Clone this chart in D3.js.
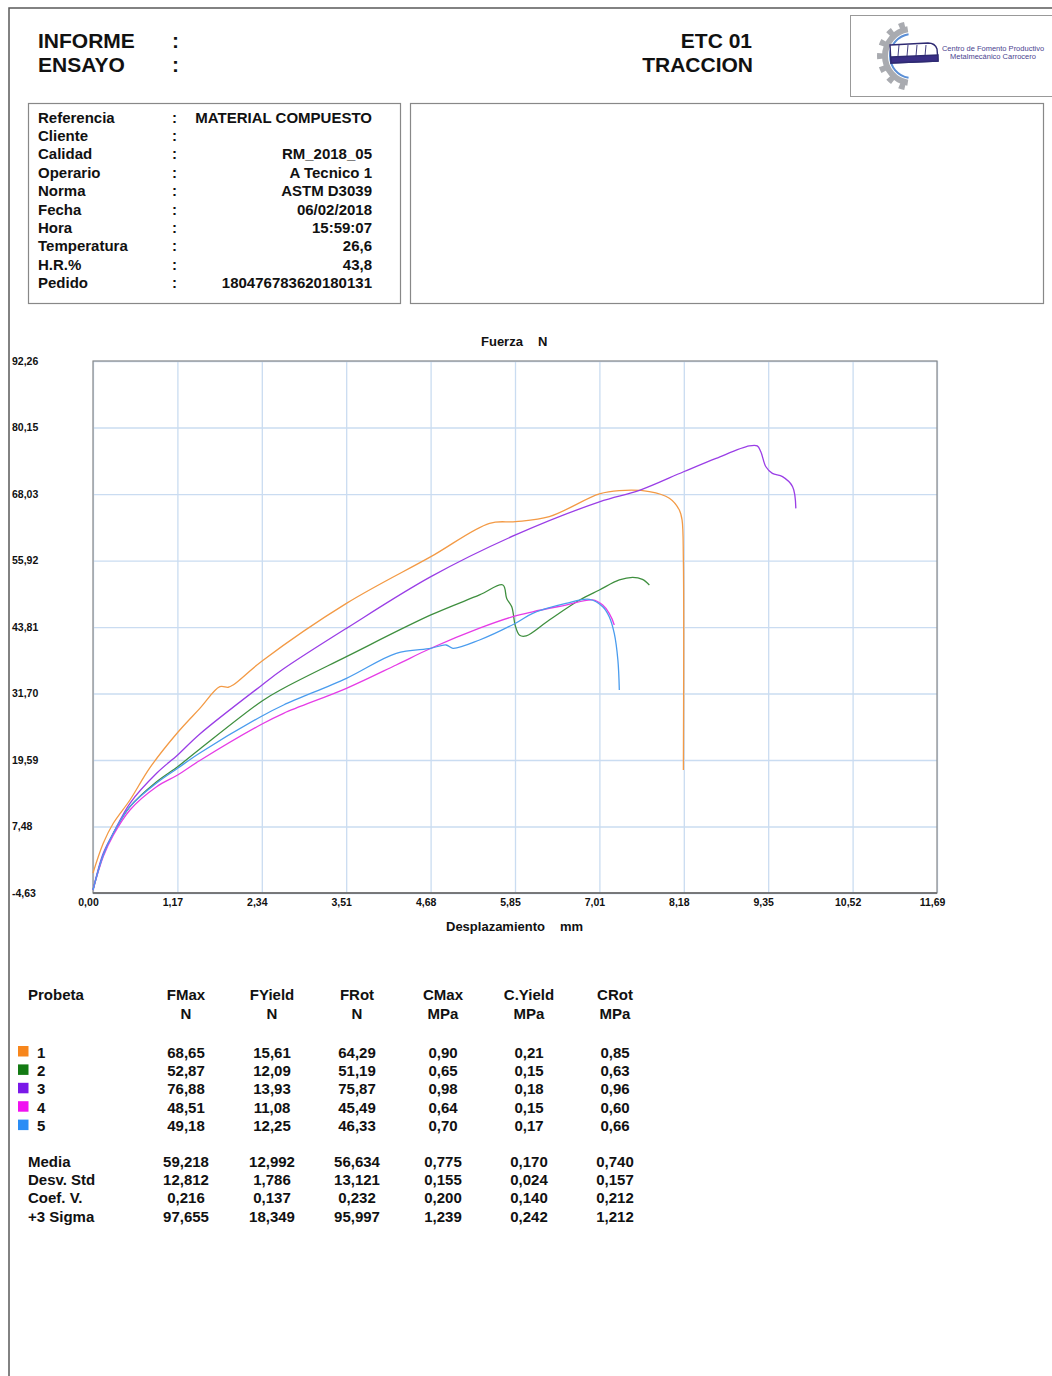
<!DOCTYPE html>
<html>
<head>
<meta charset="utf-8">
<script src="https://cdn.jsdelivr.net/npm/d3@7"></script>
<style>
  body { margin: 0; background: #fff; }
  svg { display: block; font-family: "Liberation Sans", Arial, Helvetica, sans-serif; font-weight: bold; }
</style>
</head>
<body>
<svg width="1052" height="1376"></svg>
<script>
// Header / info block
const infoLabels = ["Referencia", "Cliente", "Calidad", "Operario", "Norma", "Fecha", "Hora", "Temperatura", "H.R.%", "Pedido"];
const infoValues = ["MATERIAL COMPUESTO", "", "RM_2018_05", "A Tecnico 1", "ASTM D3039", "06/02/2018", "15:59:07", "26,6", "43,8", "180476783620180131"];

// Axis ticks
const xTicks = [0, 1.169, 2.338, 3.507, 4.676, 5.845, 7.014, 8.183, 9.352, 10.521, 11.69];
const xTickLabels = ["0,00", "1,17", "2,34", "3,51", "4,68", "5,85", "7,01", "8,18", "9,35", "10,52", "11,69"];
const yTicks = [-4.63, 7.48, 19.59, 31.70, 43.81, 55.92, 68.03, 80.15, 92.26];
const yTickLabels = ["-4,63", "7,48", "19,59", "31,70", "43,81", "55,92", "68,03", "80,15", "92,26"];

// Curves: [displacement mm, force N]
const probeta1 = [[0, -1.0], [0.142, 4.42], [0.281, 8.07], [0.512, 12.31], [0.789, 18.2], [1.172, 24.6], [1.48, 29.0],
  [1.757, 32.95], [1.872, 32.84], [1.941, 33.26], [2.342, 37.63], [3.51, 48.12], [4.68, 56.63], [5.493, 62.71],
  [5.852, 63.0], [6.32, 63.92], [7.014, 68.05], [7.29, 68.65], [7.706, 68.47], [7.983, 67.26], [8.121, 65.13],
  [8.159, 63.31], [8.177, 56.0], [8.177, 17.77]];
const probeta2 = [[0, -4.08], [0.142, 2.3], [0.281, 6.24], [0.512, 11.1], [0.881, 15.64], [1.172, 18.37], [1.48, 21.6],
  [2.342, 30.34], [2.64, 32.66], [3.51, 38.42], [4.68, 46.01], [5.354, 49.65], [5.677, 51.47], [5.73, 49.0],
  [5.80, 47.5], [5.85, 44.0], [5.91, 42.3], [6.0, 42.2], [6.32, 45.1], [6.74, 48.74], [7.014, 50.56],
  [7.29, 52.38], [7.475, 52.86], [7.61, 52.5], [7.706, 51.47]];
const probeta3 = [[0, -4.08], [0.142, 2.6], [0.281, 6.24], [0.512, 11.71], [0.881, 17.17], [1.172, 20.5], [1.48, 24.33],
  [2.342, 33.26], [2.64, 36.2], [3.51, 43.57], [4.68, 52.98], [5.852, 60.58], [7.014, 66.6], [7.568, 68.7],
  [8.18, 72.09], [8.63, 74.53], [9.09, 76.79], [9.2, 76.79], [9.25, 75.73], [9.32, 73.0], [9.41, 71.8],
  [9.55, 71.2], [9.69, 69.37], [9.735, 65.42]];
const probeta4 = [[0, -4.08], [0.142, 2.0], [0.281, 5.9], [0.512, 10.49], [0.881, 14.73], [1.172, 16.86], [1.48, 19.5],
  [2.342, 26.15], [2.64, 28.1], [3.51, 32.64], [4.2, 36.9], [4.68, 39.94], [5.354, 43.6], [5.815, 45.7],
  [6.09, 46.59], [6.55, 47.8], [6.92, 48.74], [7.06, 47.8], [7.15, 46.3], [7.22, 44.18]];
const probeta5 = [[0, -4.08], [0.142, 2.3], [0.281, 6.24], [0.512, 11.1], [0.881, 15.4], [1.172, 18.08], [1.48, 20.87],
  [2.342, 27.61], [2.64, 29.61], [3.51, 34.47], [4.2, 39.03], [4.68, 39.94], [4.89, 40.54], [4.985, 39.94],
  [5.354, 41.45], [5.852, 44.5], [6.09, 46.3], [6.55, 48.1], [6.876, 48.85], [7.06, 47.52], [7.15, 45.7],
  [7.22, 42.65], [7.27, 37.8], [7.29, 32.35]];

// Results table
const columns = ["FMax", "FYield", "FRot", "CMax", "C.Yield", "CRot"];
const units = ["N", "N", "N", "MPa", "MPa", "MPa"];
const probetas = ["1", "2", "3", "4", "5"];
const fmax = ["68,65", "52,87", "76,88", "48,51", "49,18"];
const fyield = ["15,61", "12,09", "13,93", "11,08", "12,25"];
const frot = ["64,29", "51,19", "75,87", "45,49", "46,33"];
const cmax = ["0,90", "0,65", "0,98", "0,64", "0,70"];
const cyield = ["0,21", "0,15", "0,18", "0,15", "0,17"];
const crot = ["0,85", "0,63", "0,96", "0,60", "0,66"];
const statLabels = ["Media", "Desv. Std", "Coef. V.", "+3 Sigma"];
const statFmax = ["59,218", "12,812", "0,216", "97,655"];
const statFyield = ["12,992", "1,786", "0,137", "18,349"];
const statFrot = ["56,634", "13,121", "0,232", "95,997"];
const statCmax = ["0,775", "0,155", "0,200", "1,239"];
const statCyield = ["0,170", "0,024", "0,140", "0,242"];
const statCrot = ["0,740", "0,157", "0,212", "1,212"];

const lineColors = ["#f39a45", "#3f8f3f", "#9a3ee6", "#e63ce6", "#4a9cee"];
const swatchColors = ["#f7861c", "#137a13", "#7a18e8", "#f012f0", "#2a8df5"];

const svg = d3.select("svg");

// Page frame
svg.append("path")
  .attr("d", "M9,1376 L9,8 L1052,8")
  .attr("fill", "none")
  .attr("stroke", "#5a5a5a")
  .attr("stroke-width", 1.5);

// Header
const header = svg.append("g").attr("font-size", "21px").attr("fill", "#111");
header.append("text").attr("x", 38).attr("y", 48).text("INFORME");
header.append("text").attr("x", 38).attr("y", 72).text("ENSAYO");
header.append("text").attr("x", 172).attr("y", 48).text(":");
header.append("text").attr("x", 172).attr("y", 72).text(":");
header.append("text").attr("x", 752).attr("y", 48).attr("text-anchor", "end").text("ETC 01");
header.append("text").attr("x", 753).attr("y", 72).attr("text-anchor", "end").text("TRACCION");

// Logo box
const logo = svg.append("g");
logo.append("rect").attr("x", 850.5).attr("y", 15.5).attr("width", 210).attr("height", 81)
  .attr("fill", "#fff").attr("stroke", "#999").attr("stroke-width", 1);
const gc = logo.append("g").attr("transform", "translate(912,56)");
gc.append("path")
  .attr("d", d3.arc().innerRadius(24).outerRadius(30).startAngle(Math.PI * 1.05).endAngle(Math.PI * 1.95)())
  .attr("fill", "#a9abb0");
d3.range(7).forEach(i => {
  const a = Math.PI * (1.1 + i * 0.133);
  gc.append("path")
    .attr("d", d3.arc().innerRadius(28).outerRadius(35).startAngle(a - 0.09).endAngle(a + 0.09)())
    .attr("fill", "#a9abb0");
});
gc.append("path")
  .attr("d", d3.arc().innerRadius(21).outerRadius(23).startAngle(Math.PI * 1.05).endAngle(Math.PI * 1.95)())
  .attr("fill", "#5b8fd6");
const bus = logo.append("g").attr("fill", "none").attr("stroke", "#2e2a72").attr("stroke-width", 1.4);
bus.append("path").attr("d", "M890,45 L928,43 Q935,43 937,49 L938,61 L891,63 Z").attr("fill", "#fff");
bus.append("path").attr("d", "M891,57 L938,55 L938,61 L891,63 Z").attr("fill", "#3a2f86");
[899, 908, 917, 926].forEach(xp => bus.append("line").attr("x1", xp).attr("x2", xp - 1).attr("y1", 45).attr("y2", 56).attr("stroke-width", 0.9));
logo.append("text").attr("x", 993).attr("y", 51).attr("text-anchor", "middle").attr("font-size", "7.5px")
  .attr("font-weight", "normal").attr("fill", "#4a3f8f").text("Centro de Fomento Productivo");
logo.append("text").attr("x", 993).attr("y", 58.5).attr("text-anchor", "middle").attr("font-size", "7.5px")
  .attr("font-weight", "normal").attr("fill", "#4a3f8f").text("Metalmecánico Carrocero");

// Info boxes
svg.append("rect").attr("x", 28.5).attr("y", 103.5).attr("width", 372).attr("height", 200)
  .attr("fill", "none").attr("stroke", "#888").attr("stroke-width", 1.2);
svg.append("rect").attr("x", 410.5).attr("y", 103.5).attr("width", 633).attr("height", 200)
  .attr("fill", "none").attr("stroke", "#888").attr("stroke-width", 1.2);

const info = svg.append("g").attr("font-size", "15px").attr("fill", "#111");
infoLabels.forEach((lab, i) => {
  const yy = 122.5 + i * 18.4;
  info.append("text").attr("x", 38).attr("y", yy).text(lab);
  info.append("text").attr("x", 172).attr("y", yy).text(":");
  info.append("text").attr("x", 372).attr("y", yy).attr("text-anchor", "end").text(infoValues[i]);
});

// Chart
const margin = { top: 361, left: 93 };
const width = 844, height = 532;
const g = svg.append("g").attr("transform", `translate(${margin.left},${margin.top})`);

const x = d3.scaleLinear().domain([0, 11.69]).range([0, width]);
const y = d3.scaleLinear().domain([-4.63, 92.26]).range([height, 0]);

// Grid
g.append("g")
  .attr("class", "grid-x")
  .attr("transform", `translate(0,${height})`)
  .call(d3.axisBottom(x).tickValues(xTicks).tickSize(-height).tickFormat(""))
  .call(s => s.select(".domain").remove())
  .call(s => s.selectAll("line").attr("stroke", "#cadcf1").attr("stroke-width", 1.3));
g.append("g")
  .attr("class", "grid-y")
  .call(d3.axisLeft(y).tickValues(yTicks).tickSize(-width).tickFormat(""))
  .call(s => s.select(".domain").remove())
  .call(s => s.selectAll("line").attr("stroke", "#cadcf1").attr("stroke-width", 1.3));

g.append("rect").attr("x", 0).attr("y", 0).attr("width", width).attr("height", height)
  .attr("fill", "none").attr("stroke", "#8a8a8a").attr("stroke-width", 1.2);
g.append("line").attr("x1", 0).attr("x2", width).attr("y1", height).attr("y2", height)
  .attr("stroke", "#666").attr("stroke-width", 1.5);

// Axis labels
g.append("g")
  .attr("class", "axis-x")
  .attr("transform", `translate(0,${height})`)
  .call(d3.axisBottom(x).tickValues(xTicks).tickSize(0).tickPadding(6).tickFormat((d, i) => xTickLabels[i]))
  .call(s => s.select(".domain").remove())
  .call(s => s.selectAll("text").attr("dx", -5).attr("fill", "#111")
    .attr("font-family", "'Liberation Sans', Arial, sans-serif").attr("font-weight", "bold").attr("font-size", "10.5px"));

g.append("g")
  .attr("class", "axis-y")
  .call(d3.axisLeft(y).tickValues(yTicks).tickSize(0).tickFormat((d, i) => yTickLabels[i]))
  .call(s => s.select(".domain").remove())
  .call(s => s.selectAll("text").attr("x", 12 - margin.left).attr("text-anchor", "start").attr("fill", "#111")
    .attr("font-family", "'Liberation Sans', Arial, sans-serif").attr("font-weight", "bold").attr("font-size", "10.5px"));

svg.append("text").attr("x", 481).attr("y", 346).attr("font-size", "13px").attr("fill", "#111").text("Fuerza");
svg.append("text").attr("x", 538).attr("y", 346).attr("font-size", "13px").attr("fill", "#111").text("N");
svg.append("text").attr("x", 446).attr("y", 931).attr("font-size", "13px").attr("fill", "#111").text("Desplazamiento");
svg.append("text").attr("x", 560).attr("y", 931).attr("font-size", "13px").attr("fill", "#111").text("mm");

// Data lines
const line = d3.line()
  .curve(d3.curveCatmullRom.alpha(0.5))
  .x(d => x(d[0]))
  .y(d => y(d[1]));
[probeta1, probeta2, probeta3, probeta4, probeta5].forEach((s, i) => {
  g.append("path")
    .attr("class", "data-line")
    .datum(s)
    .attr("fill", "none")
    .attr("stroke", lineColors[i])
    .attr("stroke-width", 1.3)
    .attr("stroke-linejoin", "round")
    .attr("d", line);
});

// Table
const colX = [186, 272, 357, 443, 529, 615];
const table = svg.append("g").attr("font-size", "15px").attr("fill", "#111");
table.append("text").attr("x", 28).attr("y", 1000).text("Probeta");
columns.forEach((c, i) => {
  table.append("text").attr("x", colX[i]).attr("y", 1000).attr("text-anchor", "middle").text(c);
  table.append("text").attr("x", colX[i]).attr("y", 1018.5).attr("text-anchor", "middle").text(units[i]);
});

const rowCols = [fmax, fyield, frot, cmax, cyield, crot];
probetas.forEach((p, r) => {
  const yy = 1057.5 + r * 18.4;
  table.append("rect").attr("x", 18).attr("y", yy - 11.5).attr("width", 10.5).attr("height", 10.5)
    .attr("fill", swatchColors[r]);
  table.append("text").attr("x", 37).attr("y", yy).text(p);
  rowCols.forEach((col, c) => {
    table.append("text").attr("x", colX[c]).attr("y", yy).attr("text-anchor", "middle").text(col[r]);
  });
});

const statCols = [statFmax, statFyield, statFrot, statCmax, statCyield, statCrot];
statLabels.forEach((lab, r) => {
  const yy = 1166.5 + r * 18.4;
  table.append("text").attr("x", 28).attr("y", yy).text(lab);
  statCols.forEach((col, c) => {
    table.append("text").attr("x", colX[c]).attr("y", yy).attr("text-anchor", "middle").text(col[r]);
  });
});
</script>
</body>
</html>
